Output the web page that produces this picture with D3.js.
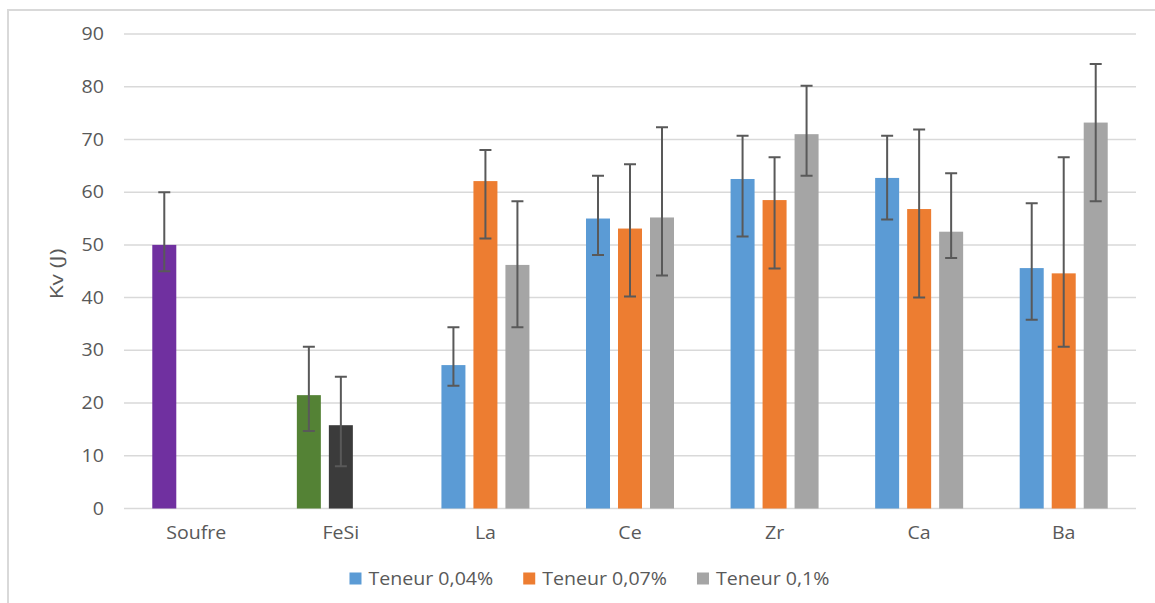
<!DOCTYPE html>
<html>
<head>
<meta charset="utf-8">
<script src="https://cdn.jsdelivr.net/npm/d3@7"></script>
<style>
  html, body { margin: 0; padding: 0; background: #ffffff; }
  svg { display: block; }
  text { font-family: "Open Sans", "Liberation Sans", sans-serif; fill: #595959; }
</style>
</head>
<body>
<svg id="chart" width="1155" height="603"></svg>
<script>
// ---- data ----
const categories = ["Soufre", "FeSi", "La", "Ce", "Zr", "Ca", "Ba"];
const seriesNames = ["Teneur 0,04%", "Teneur 0,07%", "Teneur 0,1%"];
const seriesColors = ["#5B9BD5", "#ED7D31", "#A5A5A5"];

const values004 = [50.0, 21.5, 27.2, 55.0, 62.5, 62.7, 45.6];
const upper004  = [60.0, 30.7, 34.4, 63.1, 70.7, 70.7, 57.9];
const lower004  = [45.0, 14.7, 23.3, 48.1, 51.6, 54.8, 35.8];

const values007 = [null, 15.8, 62.1, 53.1, 58.5, 56.8, 44.6];
const upper007  = [null, 25.0, 68.0, 65.3, 66.6, 71.9, 66.6];
const lower007  = [null,  8.0, 51.2, 40.2, 45.5, 40.0, 30.7];

const values01  = [null, null, 46.2, 55.2, 71.0, 52.5, 73.2];
const upper01   = [null, null, 58.3, 72.3, 80.2, 63.6, 84.3];
const lower01   = [null, null, 34.4, 44.2, 63.1, 47.5, 58.3];

// individual point colours that differ from the series colour
const pointColors = [
  { series: 0, category: "Soufre", color: "#7030A0" },
  { series: 0, category: "FeSi",   color: "#548235" },
  { series: 1, category: "FeSi",   color: "#3B3B3B" }
];

const yTicks = [0, 10, 20, 30, 40, 50, 60, 70, 80, 90];
const yTitle = "Kv (J)";

// ---- build ----
const seriesData = [
  { v: values004, hi: upper004, lo: lower004 },
  { v: values007, hi: upper007, lo: lower007 },
  { v: values01,  hi: upper01,  lo: lower01 }
];

const svg = d3.select("#chart");
const stretch = 1.12;

function stretchText(sel, sx) {
  sel.each(function () {
    const t = d3.select(this);
    const x = +t.attr("x") || 0;
    const y = +t.attr("y") || 0;
    t.attr("transform", `translate(${x},${y}) scale(${sx},1) translate(${-x},${-y})`);
  });
}

// chart border (left + top visible)
svg.append("path")
  .attr("d", "M8,603 L8,10 L1155,10")
  .attr("fill", "none")
  .attr("stroke", "#d9d9d9")
  .attr("stroke-width", 2);

const plotLeft = 124, plotRight = 1136, plotTop = 34, plotBottom = 508.5;

const x0 = d3.scaleBand().domain(categories).range([plotLeft, plotRight]).padding(0);
const x1 = d3.scaleBand().domain([0, 1, 2]).range([0, 96]).paddingInner(0.25).paddingOuter(0.125);
const y = d3.scaleLinear().domain([0, 90]).range([plotBottom, plotTop]);

// grid
svg.append("g")
  .selectAll("line")
  .data(yTicks)
  .join("line")
  .attr("x1", plotLeft).attr("x2", plotRight)
  .attr("y1", d => y(d)).attr("y2", d => y(d))
  .attr("stroke", "#d9d9d9")
  .attr("stroke-width", 1.5);

// y axis labels
const yAxis = svg.append("g")
  .attr("transform", `translate(${plotLeft},0)`)
  .call(d3.axisLeft(y).tickValues(yTicks).tickSize(0).tickPadding(20));
yAxis.select(".domain").remove();
yAxis.selectAll("text")
  .attr("font-size", 17.5)
  .attr("font-family", "Open Sans")
  .attr("fill", "#595959")
  .call(stretchText, stretch);

// x axis labels
const xAxis = svg.append("g")
  .attr("transform", `translate(0,${plotBottom})`)
  .call(d3.axisBottom(x0).tickSize(0).tickPadding(18));
xAxis.select(".domain").remove();
xAxis.selectAll("text")
  .attr("font-size", 17.5)
  .attr("font-family", "Open Sans")
  .attr("fill", "#595959")
  .call(stretchText, stretch);

// y title
svg.append("text")
  .attr("transform", "translate(63,274) rotate(-90) scale(1.3,1)")
  .attr("text-anchor", "middle")
  .attr("font-size", 17.5)
  .text(yTitle);

// bars
function colorFor(si, cat) {
  const o = pointColors.find(p => p.series === si && p.category === cat);
  return o ? o.color : seriesColors[si];
}

const barItems = [];
seriesData.forEach((s, si) => {
  categories.forEach((c, ci) => {
    if (s.v[ci] != null) {
      barItems.push({ si, cat: c, v: s.v[ci], hi: s.hi[ci], lo: s.lo[ci] });
    }
  });
});

const groupOffset = d => x0(d.cat) + x0.bandwidth() / 2 - 48;

svg.append("g")
  .selectAll("rect")
  .data(barItems)
  .join("rect")
  .attr("x", d => groupOffset(d) + x1(d.si))
  .attr("width", x1.bandwidth())
  .attr("y", d => y(d.v))
  .attr("height", d => y(0) - y(d.v))
  .attr("fill", d => colorFor(d.si, d.cat));

// error bars
const eg = svg.append("g")
  .attr("stroke", "#595959")
  .attr("stroke-width", 2)
  .attr("fill", "none");
const ex = d => groupOffset(d) + x1(d.si) + x1.bandwidth() / 2;
eg.selectAll("path")
  .data(barItems)
  .join("path")
  .attr("d", d => {
    const cx = ex(d), yh = y(d.hi), yl = y(d.lo);
    return `M${cx},${yh}L${cx},${yl}M${cx - 6},${yh}L${cx + 6},${yh}M${cx - 6},${yl}L${cx + 6},${yl}`;
  });

// legend
const legend = svg.append("g");
let lx = 0;
seriesNames.forEach((name, i) => {
  const g = legend.append("g").attr("transform", `translate(${lx},0)`);
  g.append("rect").attr("x", 0).attr("y", -12.5).attr("width", 12).attr("height", 12)
    .attr("fill", seriesColors[i]);
  const t = g.append("text").attr("x", 19).attr("y", 0)
    .attr("font-size", 17.5)
    .text(name);
  t.call(stretchText, stretch);
  const w = t.node().getComputedTextLength() * stretch;
  lx += 19 + w + 30;
});
const legendWidth = lx - 30;
legend.attr("transform", `translate(${589.5 - legendWidth / 2},585)`);
</script>
</body>
</html>
